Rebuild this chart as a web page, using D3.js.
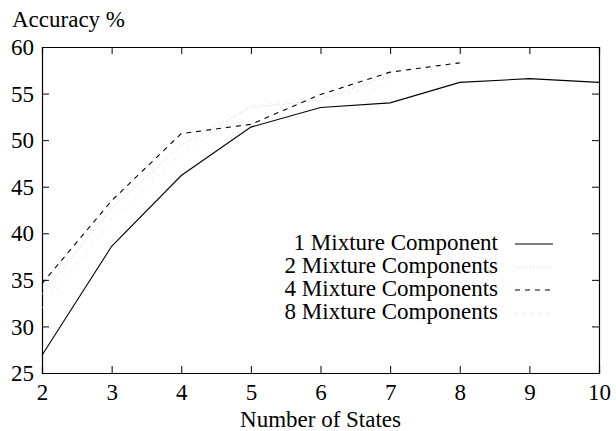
<!DOCTYPE html>
<html lang="en">
<head>
  <meta charset="UTF-8">
  <title>Accuracy vs Number of States</title>
  <style>
    body { margin: 0; background: #fff; }
    svg text { font-family: "Liberation Serif", "DejaVu Serif", serif !important; }
  </style>
</head>
<body>

<div id="chart"></div>

<script src="https://d3js.org/d3.v7.min.js"></script>
<script>

const width = 616;
const height = 431;

// data
const states = [2, 3, 4, 5, 6, 7, 8, 9, 10];
const mix1 = [26.9, 38.6, 46.2, 51.4, 53.5, 54.0, 56.2, 56.6, 56.2];
const mix2 = [33.5, 42.7, 49.5, 53.5, 54.3, 57.0];
const mix4 = [34.6, 43.5, 50.7, 51.7, 54.9, 57.3, 58.3];
const mix8 = [32.0, 41.5, 48.5, 53.7, 54.6, 55.8];
const yTicks = [25, 30, 35, 40, 45, 50, 55, 60];

const series = [
  { name: "1 Mixture Component",  values: mix1, stroke: "#000", dash: null,  width: 1.1 },
  { name: "2 Mixture Components", values: mix2, stroke: "#d4d4d4", dash: "1,2", width: 1 },
  { name: "4 Mixture Components", values: mix4, stroke: "#000", dash: "5,5", width: 1.1 },
  { name: "8 Mixture Components", values: mix8, stroke: "#d8d8d8", dash: "1,7", width: 1 }
];

const margin = { left: 42, right: 17, top: 47, bottom: 58 };

const x = d3.scaleLinear().domain([2, 10]).range([margin.left, width - margin.right]);
const y = d3.scaleLinear().domain([25, 60]).range([height - margin.bottom, margin.top]);

const svg = d3.select("#chart").append("svg")
  .attr("width", width)
  .attr("height", height);

const fs = 23;

// frame with inward ticks on all four sides
const tickLen = 7;
svg.append("g")
  .attr("transform", `translate(0,${y(25)})`)
  .call(d3.axisBottom(x).tickValues(states).tickSize(-tickLen).tickPadding(tickLen + 4).tickFormat(d3.format("d")))
  .call(g => g.selectAll("text").attr("font-size", fs));

svg.append("g")
  .attr("transform", `translate(0,${y(60)})`)
  .call(d3.axisTop(x).tickValues(states).tickSize(-tickLen).tickFormat(""));

svg.append("g")
  .attr("transform", `translate(${x(2)},0)`)
  .call(d3.axisLeft(y).tickValues(yTicks).tickSize(-tickLen).tickPadding(tickLen + 1))
  .call(g => g.selectAll("text").attr("font-size", fs).attr("dy", "0.33em"));

svg.append("g")
  .attr("transform", `translate(${x(10)},0)`)
  .call(d3.axisRight(y).tickValues(yTicks).tickSize(-tickLen).tickFormat(""));

svg.selectAll(".domain").attr("stroke", "#000").attr("stroke-width", 1.2);
svg.selectAll(".tick line").attr("stroke", "#000");
// no tick marks at the corners
svg.selectAll(".tick").filter(d => d === 2 || d === 10 || d === 25 || d === 60).select("line").remove();

// lines
const line = d3.line()
  .x((d, i) => x(states[i]))
  .y(d => y(d));

svg.selectAll(".series")
  .data(series)
  .enter().append("path")
  .attr("class", "series")
  .attr("fill", "none")
  .attr("stroke", d => d.stroke)
  .attr("stroke-width", d => d.width)
  .attr("stroke-dasharray", d => d.dash)
  .attr("d", d => line(d.values));

// legend
const legend = svg.append("g");
series.forEach((s, i) => {
  const by = 250 + i * 23;
  legend.append("text")
    .attr("x", 498)
    .attr("y", by)
    .attr("text-anchor", "end")
    .attr("font-size", fs)
    .text(s.name);
  legend.append("line")
    .attr("x1", 515).attr("x2", 553)
    .attr("y1", by - 6).attr("y2", by - 6)
    .attr("stroke", s.stroke)
    .attr("stroke-width", s.width)
    .attr("stroke-dasharray", s.dash);
});

// axis titles
svg.append("text")
  .attr("x", 12)
  .attr("y", 27)
  .attr("font-size", fs)
  .text("Accuracy %");

svg.append("text")
  .attr("x", (x(2) + x(10)) / 2)
  .attr("y", 427)
  .attr("text-anchor", "middle")
  .attr("font-size", fs)
  .text("Number of States");

</script>

</body>
</html>
